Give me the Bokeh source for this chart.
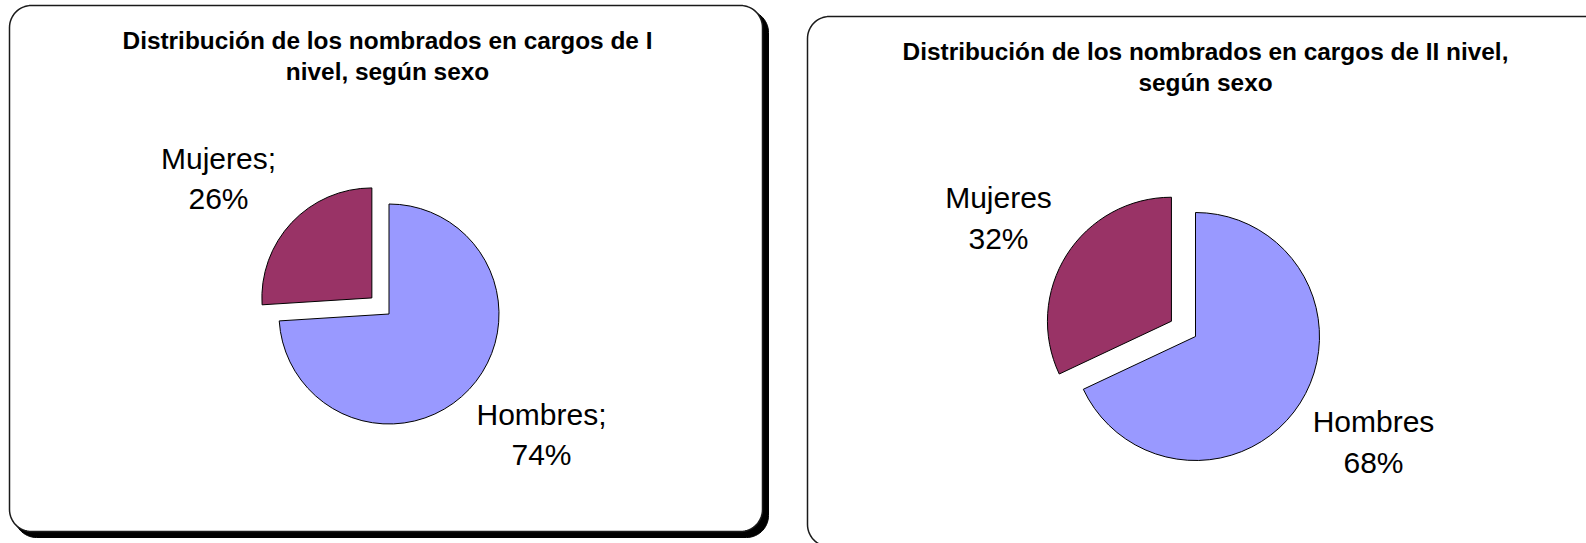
import numpy as np
from bokeh.plotting import figure
from bokeh.models import Range1d
from bokeh.embed import file_html
from bokeh.resources import INLINE
from bokeh.core.properties import value

# ---------------- data ----------------
categories = ["Hombres", "Mujeres"]
nivel1_pct = [74, 26]
nivel2_pct = [68, 32]
title1_lines = ["Distribución de los nombrados en cargos de I", "nivel, según sexo"]
title2_lines = ["Distribución de los nombrados en cargos de II nivel,", "según sexo"]
label_sep1 = ";"
label_sep2 = ""
colors = ["#9999FF", "#993366"]

# ---------------- layout (page pixels) ----------------
W, H = 1586, 543
FONT = "Liberation Sans"


def X(px):
    return px


def Y(py):
    return H - py


p = figure(width=W, height=H, x_range=Range1d(0, W), y_range=Range1d(0, H),
           output_backend="svg", toolbar_location=None, min_border=0)
p.axis.visible = False
p.grid.visible = False
p.outline_line_color = None
p.background_fill_color = "white"
p.border_fill_color = "white"


def rrect(x0, y0, x1, y1, r, n=16):
    # page coords in, data coords out
    L, R, T, B = X(x0), X(x1), Y(y0), Y(y1)
    xs, ys = [], []
    for cx, cy, a0 in [(R - r, T - r, 0), (L + r, T - r, 90), (L + r, B + r, 180), (R - r, B + r, 270)]:
        a = np.radians(np.linspace(a0, a0 + 90, n))
        xs += list(cx + r * np.cos(a))
        ys += list(cy + r * np.sin(a))
    return xs, ys


# panels
sx, sy = rrect(14, 10, 768, 537, 22)
p.patch(sx, sy, fill_color="black", line_color="black")
px_, py_ = rrect(9, 5, 762, 531, 22)
p.patch(px_, py_, fill_color="white", line_color="#1a1a1a", line_width=1.5)
qx, qy = rrect(807, 16, 1650, 546, 22)
p.patch(qx, qy, fill_color="white", line_color="#1a1a1a", line_width=1.5)


def pie(cx, cy, r, pcts, explode):
    pcts = np.array(pcts, dtype=float)
    cum = np.concatenate([[0], np.cumsum(pcts)]) / pcts.sum()
    start = np.pi / 2 - cum[:-1] * 2 * np.pi
    end = np.pi / 2 - cum[1:] * 2 * np.pi
    mid = (start + end) / 2
    ex = np.array(explode)
    xs = X(cx) + ex * np.cos(mid)
    ys = Y(cy) + ex * np.sin(mid)
    p.wedge(x=xs, y=ys, radius=r, start_angle=start, end_angle=end, direction="clock",
            fill_color=colors, line_color="black", line_width=1)


pie(388.5, 313.5, 110, nivel1_pct, [0, 23.5])
pie(1195, 336, 124, nivel2_pct, [0, 28.5])


def texts(xs, ys, t, size, style="normal"):
    p.text(x=[X(v) for v in xs], y=[Y(v) for v in ys], text=t,
           text_font=value(FONT), text_font_size=size, text_font_style=style,
           text_align="center", text_baseline="middle", text_color="black")


# titles
texts([387, 387], [39.5, 71], title1_lines, "24.4px", "bold")
texts([1205, 1205], [50.5, 82], title2_lines, "24.4px", "bold")

# labels
lab_pos1 = {"Mujeres": (218, 157.6), "Hombres": (541, 413.7)}
lab_pos2 = {"Mujeres": (998, 197), "Hombres": (1373, 421)}
GAP = 40.5
for pos, pcts, sep in [(lab_pos1, nivel1_pct, label_sep1), (lab_pos2, nivel2_pct, label_sep2)]:
    for c, v in zip(categories, pcts):
        x, y = pos[c]
        texts([x, x], [y, y + GAP], [f"{c}{sep}", f"{v}%"], "30px")

open("out.html", "w").write(file_html(p, INLINE))
